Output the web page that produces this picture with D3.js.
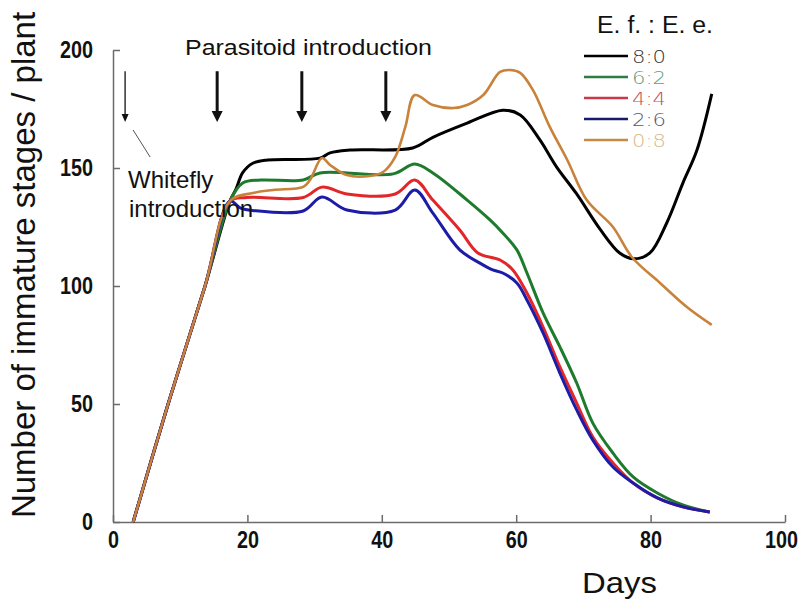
<!DOCTYPE html>
<html>
<head>
<meta charset="utf-8">
<script src="https://cdn.jsdelivr.net/npm/d3@7"></script>
<style>
  body { margin: 0; background: #fff; }
  svg { display: block; }
  .tick text { font-family: "Liberation Sans Narrow", "Arial Narrow", "Liberation Sans", sans-serif; font-weight: bold; font-size: 24px; fill: #111; }
  .tick line, .domain { stroke: #6b6b6b; stroke-width: 1.5; }
</style>
</head>
<body>
<svg id="chart" width="805" height="604"></svg>
<script>
const width = 805;
const height = 604;

// series: [day, immature stages per plant]
const ratio80 = [[3,0],[8.2,50],[13.7,100],[17.4,136],[18.3,141],[19.3,148],[20.8,152],[23,153.4],[30.8,154.2],[32.3,156.4],[35.3,157.6],[44.6,158.5],[47.6,163],[52.7,169],[58,174.5],[60.6,172.5],[63.5,162],[66,150.5],[69,139],[72.5,124],[75.4,114],[77.5,111.5],[79.9,114],[82.4,126.7],[84.8,143.6],[86.9,157.6],[89.1,181.4]];
const ratio62 = [[3,0],[8.2,50],[13.7,100],[17.4,136],[19.3,143.6],[21.9,144.9],[28.3,144.9],[30.8,147.9],[41.7,147.5],[44.9,151.7],[47.6,147.9],[52.7,136.4],[56.1,128],[58,122.5],[60.1,115.3],[61.6,105.5],[64,88.6],[66.5,74.2],[69,58.9],[71.4,41.9],[74.4,29.2],[77.4,19.1],[81,12.3],[84.8,7.2],[88.8,4.2]];
const ratio44 = [[3,0],[8.2,50],[13.7,100],[17.4,136],[19.9,137.5],[28.3,137.5],[31.1,141.9],[34.8,139],[42,139],[44.9,144.9],[47.6,136.4],[51.6,123.7],[54.3,114],[57.6,111],[59.5,106.8],[61.6,97],[64,82.6],[66.5,65.7],[69,50.4],[71.4,36],[74.4,25],[77.4,16.5],[81,10.2],[84.8,6.4],[88.8,4.2]];
const ratio26 = [[3,0],[8.2,50],[13.7,100],[17.4,136],[19,133],[20.8,132],[28.3,131.8],[31.1,137.7],[34.8,132.2],[42,132.2],[44.9,140.7],[47.6,130.9],[51.6,115.3],[54.6,109.7],[56.5,106.8],[58,105.5],[60.1,101.3],[61.6,94.1],[64,80.1],[66.5,63.1],[69,47.5],[71.4,34.7],[74.4,23.3],[77.4,16.5],[81,10.2],[84.8,6.4],[88.8,4.2]];
const ratio08 = [[3,0],[8.2,50],[13.7,100],[17.4,136],[20.8,139.4],[23.8,140.7],[28.3,142],[29.3,144.9],[31.1,154.2],[32.3,151.3],[34.8,147],[38.2,146.6],[40.2,148.3],[42,154.7],[43.5,167.4],[44.9,180.9],[47.6,176.7],[50.6,175.4],[52.7,176.7],[55.1,180.9],[57.6,190.7],[59.1,191.5],[60.6,190.3],[62.5,183],[65,167.4],[67.6,153.4],[70.5,136.4],[74.4,125],[77.2,112.3],[81.4,101.3],[85.4,91.1],[89.1,83.5]];

const seriesNames = ["8:0", "6:2", "4:4", "2:6", "0:8"];
const seriesData = [ratio80, ratio62, ratio44, ratio26, ratio08];
const lineColors = ["#000000", "#1e7b2e", "#e2262a", "#1c1ca8", "#c8823a"];
const legendLineColors = ["#000000", "#2e7d45", "#c83a4a", "#1a1a6a", "#c8884a"];
const legendTextColors = ["#333333", "#6a9a78", "#c0505a", "#55557a", "#d8b88a"];

const xTicks = [0, 20, 40, 60, 80, 100];
const yTicks = [0, 50, 100, 150, 200];

// arrows (day positions)
const whiteflyDays = [1.8];
const parasitoidDays = [15.5, 28.1, 40.6];
const arrowTop = 191;
const arrowTip = 169.5;

const svg = d3.select("#chart");

const x = d3.scaleLinear().domain([0, 100]).range([113, 785]);
const y = d3.scaleLinear().domain([0, 200]).range([522, 50]);

// narrow digits like the original
function squeeze(g) {
  g.selectAll(".tick text").each(function() {
    const t = d3.select(this);
    t.attr("textLength", t.text().length * 11).attr("lengthAdjust", "spacingAndGlyphs");
  });
}

svg.append("g")
  .attr("transform", "translate(0,522)")
  .call(d3.axisBottom(x).tickValues(xTicks).tickSizeInner(-7).tickSizeOuter(0).tickPadding(9))
  .call(squeeze)
  .call(g => g.selectAll(".tick text").filter(d => d == 100).attr("dx", -4));

svg.append("g")
  .attr("transform", "translate(113,0)")
  .call(d3.axisLeft(y).tickValues(yTicks).tickSizeInner(-7).tickSizeOuter(0).tickPadding(20))
  .call(squeeze);

const line = d3.line()
  .x(d => x(d[0]))
  .y(d => y(d[1]))
  .curve(d3.curveCatmullRom.alpha(0.5));

svg.append("g").selectAll("path")
  .data(seriesData)
  .join("path")
  .attr("d", line)
  .attr("fill", "none")
  .attr("stroke", (d, i) => lineColors[i])
  .attr("stroke-width", (d, i) => i == 4 ? 2.6 : 3)
  .attr("stroke-linejoin", "round");

// arrows
function arrow(day, w, head, hw) {
  const ax = x(day);
  svg.append("line")
    .attr("x1", ax).attr("x2", ax)
    .attr("y1", y(arrowTop)).attr("y2", y(arrowTip) - head + 1)
    .attr("stroke", "#111").attr("stroke-width", w);
  svg.append("path")
    .attr("d", `M${ax - hw},${y(arrowTip) - head} L${ax + hw},${y(arrowTip) - head} L${ax},${y(arrowTip)} Z`)
    .attr("fill", "#111");
}
whiteflyDays.forEach(d => arrow(d, 1.3, 8, 3.5));
parasitoidDays.forEach(d => arrow(d, 3, 11, 5.5));

// whitefly leader line
svg.append("line")
  .attr("x1", x(whiteflyDays[0]) + 8).attr("y1", 130)
  .attr("x2", x(whiteflyDays[0]) + 25).attr("y2", 157)
  .attr("stroke", "#555").attr("stroke-width", 1);

const txt = (s, px, py, size, len) => {
  const t = svg.append("text")
    .attr("x", px).attr("y", py)
    .attr("font-family", "Liberation Sans, Arial, sans-serif")
    .attr("font-size", size)
    .attr("fill", "#111")
    .text(s);
  if (len) t.attr("textLength", len).attr("lengthAdjust", "spacingAndGlyphs");
  return t;
};

txt("Parasitoid introduction", 185, 55, 22, 247);
txt("Whitefly", 128, 188, 24);
txt("introduction", 129, 217, 24);

// axis titles
txt("Days", 582, 593, 30, 75);
svg.append("text")
  .attr("transform", "translate(35,265) rotate(-90)")
  .attr("text-anchor", "middle")
  .attr("font-family", "Liberation Sans, Arial, sans-serif")
  .attr("font-size", 33)
  .attr("fill", "#111")
  .text("Number of immature stages / plant");

// legend
txt("E. f. : E. e.", 597, 33, 23, 116);
const legend = svg.append("g");
seriesNames.forEach((name, i) => {
  const ly = 56 + i * 21;
  legend.append("line")
    .attr("x1", 584).attr("x2", 628).attr("y1", ly).attr("y2", ly)
    .attr("stroke", legendLineColors[i]).attr("stroke-width", 2.5);
  legend.append("text")
    .attr("x", 632).attr("y", ly + 7)
    .attr("font-family", "DejaVu Sans, sans-serif")
    .attr("font-weight", 300)
    .attr("font-size", 18)
    .attr("fill", legendTextColors[i])
    .attr("textLength", 34).attr("lengthAdjust", "spacingAndGlyphs")
    .text(name);
});
</script>
</body>
</html>
